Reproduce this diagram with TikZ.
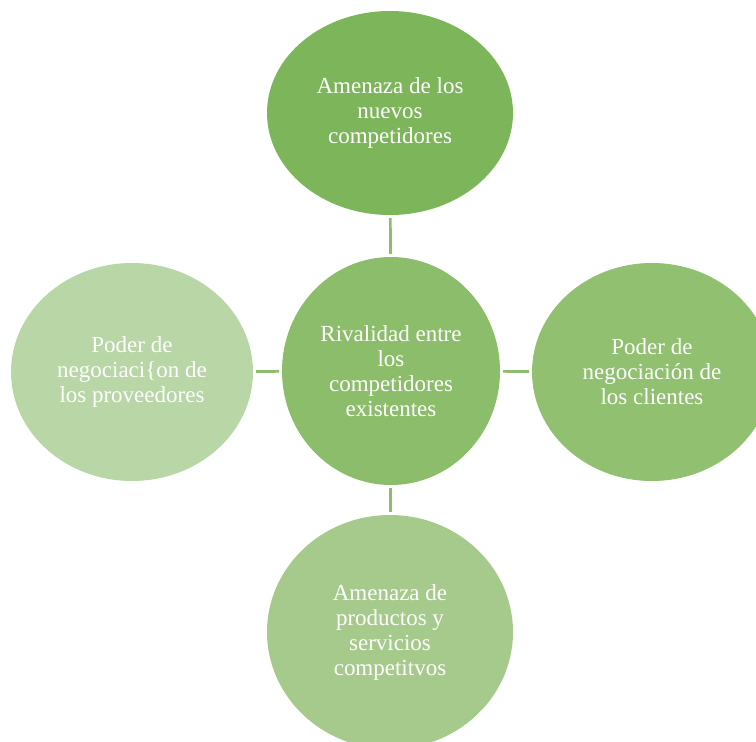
\documentclass[tikz,border=0pt]{standalone}
\usepackage{fontspec}
\setmainfont{Liberation Serif}
\usetikzlibrary{shapes.geometric}
\definecolor{cTop}{HTML}{7DB55A}
\definecolor{cMid}{HTML}{8CBD6B}
\definecolor{cRight}{HTML}{90C070}
\definecolor{cBottom}{HTML}{A5CA8B}
\definecolor{cLeft}{HTML}{B8D6A6}
\definecolor{cLine}{HTML}{8CBD6B}
\tikzset{
  blob/.style={ellipse, inner sep=0pt, draw=none, text=white, align=center,
    font=\fontsize{23}{25}\selectfont},
  link/.style={draw=cLine, line width=2.6pt, shorten <=3pt, shorten >=3pt}
}
\begin{document}
\begin{tikzpicture}[x=1pt,y=-1pt]
\useasboundingbox (0,0) rectangle (756,742);
\node[blob, fill=cTop, minimum width=246pt, minimum height=204pt] (top) at (390,113)
  {Amenaza de los\\nuevos\\competidores};
\node[blob, fill=cMid, minimum width=218pt, minimum height=228pt] (mid) at (391,371)
  {Rivalidad entre\\los\\competidores\\existentes};
\node[blob, fill=cLeft, minimum width=242pt, minimum height=218pt] (left) at (132,372)
  {Poder de\\negociaci\{on de\\los proveedores};
\node[blob, fill=cRight, minimum width=240pt, minimum height=218pt] (right) at (652,372)
  {Poder de\\negociación de\\los clientes};
\node[blob, fill=cBottom, minimum width=246pt, minimum height=234pt] (bottom) at (390,632)
  {Amenaza de\\productos y\\servicios\\competitvos};
\draw[link] (top) -- (mid);
\draw[link] (left) -- (mid);
\draw[link] (mid) -- (right);
\draw[link] (mid) -- (bottom);
\end{tikzpicture}
\end{document}
